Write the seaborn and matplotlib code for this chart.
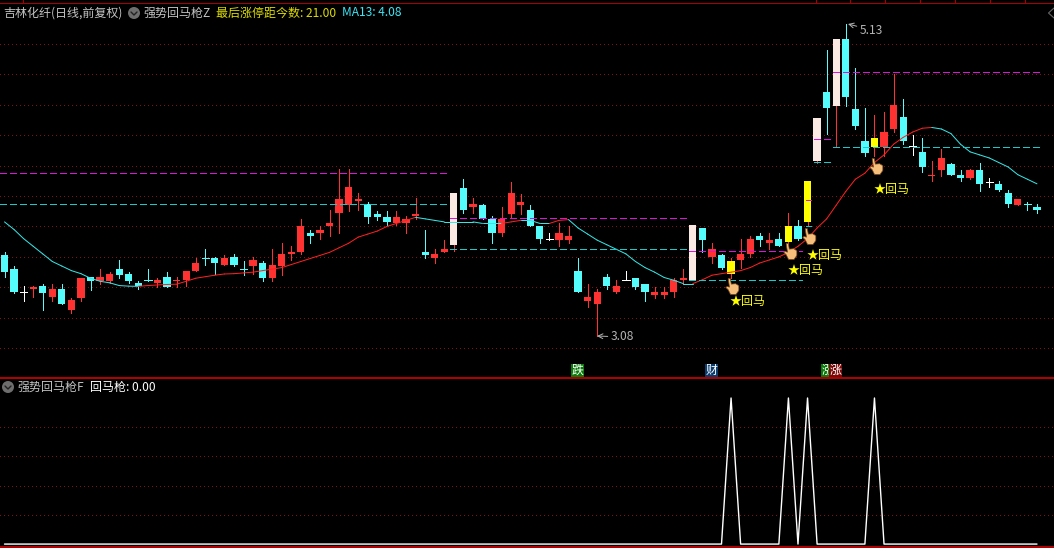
import seaborn as sns
import matplotlib.pyplot as plt
import numpy as np
from matplotlib.patches import Rectangle, Circle
from matplotlib.path import Path

# candles (yuan)
open_ = [3.61,3.52,3.37,3.39,3.41,3.34,3.39,3.25,3.33,3.47,3.44,3.44,3.52,3.49,3.43,3.45,3.43,3.47,3.44,3.45,
         3.51,3.59,3.59,3.55,3.60,3.52,3.54,3.56,3.46,3.54,3.62,3.63,3.76,3.76,3.80,3.89,3.94,3.97,3.95,3.88,
         3.86,3.82,3.82,3.87,3.63,3.59,3.63,3.68,4.05,3.93,3.94,3.85,3.76,3.88,3.94,3.91,3.80,3.72,3.71,3.71,
         3.51,3.31,3.29,3.47,3.37,3.45,3.46,3.42,3.35,3.35,3.37,3.45,3.45,3.79,3.60,3.61,3.49,3.58,3.62,3.74,
         3.69,3.72,3.70,3.80,3.83,4.23,4.68,4.59,5.03,4.57,4.36,4.32,4.32,4.44,4.52,4.33,4.29,4.13,4.17,4.21,
         4.14,4.12,4.17,4.09,4.08,4.02,3.94,3.95,3.93]
high = [3.63,3.54,3.41,3.41,3.42,3.42,3.42,3.33,3.46,3.47,3.52,3.50,3.58,3.50,3.44,3.52,3.46,3.50,3.47,3.51,
        3.59,3.65,3.60,3.61,3.62,3.57,3.60,3.57,3.65,3.69,3.67,3.85,3.78,3.80,3.91,4.18,4.18,4.02,3.96,3.90,
        3.90,3.90,3.87,3.99,3.78,3.65,3.71,4.02,4.11,3.99,3.95,3.87,3.93,4.09,4.01,3.94,3.80,3.76,3.82,3.80,
        3.59,3.42,3.39,3.49,3.45,3.51,3.46,3.42,3.40,3.40,3.46,3.52,3.81,3.79,3.69,3.62,3.59,3.72,3.74,3.76,
        3.76,3.76,3.89,3.84,4.10,4.51,4.96,5.03,5.13,4.84,4.58,4.53,4.55,4.80,4.64,4.40,4.38,4.23,4.31,4.22,
        4.17,4.18,4.22,4.12,4.10,4.04,3.98,3.96,3.95]
low = [3.47,3.36,3.31,3.34,3.25,3.31,3.29,3.23,3.31,3.38,3.42,3.43,3.46,3.43,3.39,3.44,3.40,3.40,3.40,3.41,
       3.51,3.55,3.49,3.55,3.54,3.48,3.49,3.44,3.44,3.48,3.58,3.62,3.69,3.72,3.74,3.76,3.90,3.91,3.82,3.84,
       3.81,3.81,3.76,3.85,3.59,3.56,3.63,3.64,3.89,3.89,3.85,3.69,3.74,3.86,3.88,3.80,3.69,3.71,3.67,3.69,
       3.37,3.27,3.08,3.39,3.36,3.45,3.39,3.31,3.33,3.33,3.34,3.42,3.45,3.63,3.56,3.52,3.46,3.53,3.60,3.67,
       3.65,3.67,3.65,3.71,3.80,4.22,4.41,4.32,4.59,4.44,4.26,4.26,4.26,4.42,4.34,4.27,4.16,4.10,4.13,4.14,
       4.10,4.11,4.03,4.06,4.03,3.93,3.94,3.91,3.89]
close = [3.50,3.37,3.37,3.40,3.36,3.39,3.29,3.32,3.46,3.44,3.47,3.49,3.48,3.44,3.41,3.45,3.45,3.40,3.45,3.51,
         3.56,3.59,3.56,3.59,3.55,3.52,3.58,3.46,3.55,3.62,3.63,3.80,3.74,3.78,3.82,3.98,4.06,3.98,3.86,3.86,
         3.83,3.86,3.85,3.88,3.61,3.62,3.65,4.02,3.91,3.95,3.85,3.76,3.85,4.02,3.96,3.80,3.72,3.72,3.76,3.74,
         3.37,3.34,3.37,3.41,3.41,3.45,3.40,3.37,3.37,3.37,3.45,3.46,3.81,3.71,3.65,3.53,3.57,3.62,3.72,3.71,
         3.71,3.67,3.80,3.72,4.10,4.51,4.58,5.03,4.65,4.46,4.28,4.38,4.42,4.60,4.36,4.33,4.19,4.14,4.25,4.14,
         4.12,4.17,4.08,4.09,4.04,3.95,3.98,3.95,3.91]
ma13 = [3.83,3.78,3.72,3.67,3.62,3.57,3.54,3.51,3.49,3.46,3.44,3.43,3.412,3.408,3.407,3.412,3.416,3.419,3.421,3.44,
        3.46,3.47,3.48,3.488,3.49,3.495,3.50,3.51,3.52,3.53,3.55,3.57,3.59,3.61,3.63,3.66,3.69,3.73,3.75,3.77,
        3.80,3.82,3.84,3.86,3.85,3.84,3.83,3.83,3.83,3.83,3.82,3.82,3.82,3.83,3.84,3.84,3.82,3.82,3.84,3.845,
        3.79,3.75,3.71,3.68,3.65,3.62,3.57,3.53,3.50,3.465,3.447,3.425,3.425,3.45,3.48,3.49,3.50,3.51,3.53,3.56,
        3.58,3.60,3.63,3.67,3.72,3.79,3.85,3.94,4.03,4.11,4.15,4.22,4.27,4.34,4.385,4.42,4.445,4.45,4.44,4.41,
        4.34,4.29,4.27,4.25,4.22,4.19,4.14,4.11,4.08]

limit_up_days = [47, 72, 85, 87]
signal_days = [76, 82, 84, 91]
flat_days = [2, 57, 65, 95, 103]

# pressure / support levels of each limit-up run
level_start = [-0.5, 46.6, 71.6, 83.8, 84.7, 86.7]
level_end = [46.4, 71.5, 83.4, 84.4, 86.5, 108.5]
level_high = [4.148, 3.853, 3.636, 3.971, 4.374, 4.814]
level_low = [3.945, 3.649, 3.446, 3.80, 4.223, 4.322]

hand_prices = [3.41, 3.64, 3.74, 4.20]
signal = [1 if i in signal_days else 0 for i in range(len(close))]
grid_prices = [3.0, 3.2, 3.4, 3.6, 3.8, 4.0, 4.2, 4.4, 4.6, 4.8, 5.0]
grid_signal = [0.2, 0.4, 0.6, 0.8]

W, H = 1054, 548
RED, CYAN = "#FF3232", "#54FCFC"
DOT = (0, (1, 3))
LW = 0.72  # one pixel

sns.set_theme(style="dark", rc={"figure.facecolor": "black", "axes.facecolor": "black", "axes.grid": False})
plt.rcParams['font.family'] = ['Noto Sans CJK SC', 'DejaVu Sans']

fig = plt.figure(figsize=(W / 100, H / 100), dpi=100)
ax = fig.add_axes([0, 1 - 378 / H, 1, 378 / H])
ax2 = fig.add_axes([0, 1 - 547 / H, 1, 168 / H])
over = fig.add_axes([0, 0, 1, 1])

x_lim = (-4.5 / 9.56, (W - 4.5) / 9.56)
ax.set_xlim(x_lim)
ax.set_ylim(2.805, 5.287)
ax2.set_xlim(x_lim)
ax2.set_ylim(-0.02, 1.13)
for a in (ax, ax2):
    a.set_axis_off()
    a.patch.set_visible(False)

over.set_xlim(0, W)
over.set_ylim(H, 0)
over.set_axis_off()
over.patch.set_visible(False)
fig.patch.set_facecolor("black")

# grid
ax.hlines(grid_prices, *x_lim, color="#8A1010", lw=LW, linestyles=[DOT], antialiased=False, zorder=1)
ax2.hlines(grid_signal, *x_lim, color="#8A1010", lw=LW, linestyles=[DOT], antialiased=False, zorder=1)

# candles
days = np.arange(len(close))
for i in days:
    o, h, l, c = open_[i], high[i], low[i], close[i]
    if i in flat_days:
        wick = body = "white"
    elif c > o:
        wick = body = RED
    else:
        wick = body = CYAN
    if i in limit_up_days:
        body = "#FBE9E4"
    if i in signal_days:
        body = "#FFFF00"
    ax.vlines(i, l, h, color=wick, lw=LW, antialiased=False, zorder=2)
    ax.bar(i, abs(c - o), bottom=min(o, c), width=0.76, color=body, lw=0, antialiased=False, zorder=3)
    if o == c:
        ax.hlines(c, i - 0.38, i + 0.38, color=body, lw=LW, antialiased=False, zorder=3)

# MA13, red while rising and cyan while falling
for i in days[1:]:
    col = "#FF2020" if ma13[i] > ma13[i - 1] else "#35E6E6"
    sns.lineplot(x=[i - 1, i], y=[ma13[i - 1], ma13[i]], color=col, lw=LW, ax=ax, estimator=None, zorder=5)

# levels
dash = (0, (6, 3.6))
ax.hlines(level_high, level_start, level_end, color="#E010E0", lw=LW, linestyles=[dash], antialiased=False, zorder=6)
ax.hlines(level_low, level_start, level_end, color="#14CCCC", lw=LW, linestyles=[dash], antialiased=False, zorder=6)

# pointing hands on the signal days
hand = Path([(-0.55, 1.0), (-0.28, 1.0), (-0.15, 0.3), (0.4, 0.35), (0.8, 0.1), (0.8, -0.5), (0.45, -1.0),
             (-0.25, -1.0), (-0.55, -0.4), (-0.85, -0.12), (-0.68, 0.0), (-0.38, -0.08), (-0.55, 1.0)])
ax.scatter(np.array(signal_days) + 0.15, hand_prices, marker=hand, s=130, color="#F6C07C", edgecolor="#7A4A18",
           lw=0.5, zorder=8)

# lower pane
sns.lineplot(x=days, y=signal, color="white", lw=1.0, ax=ax2, estimator=None, zorder=3)

# frame lines and top ruler
over.plot([0, W], [3, 3], color="#A80000", lw=LW, antialiased=False)
over.plot([0, W], [378, 378], color="#B00000", lw=1.1, antialiased=False)
over.plot([0, W], [547, 547], color="#B00000", lw=1.1, antialiased=False)
over.vlines([23, 816, 850, 885, 920, 955, 990, 1025], 0, 3, color="#A80000", lw=LW, antialiased=False)


def px_text(x, y, s, color, size=8.64, zorder=20, **kw):
    over.text(x, y, s, color=color, fontsize=size, va="center", ha="left", zorder=zorder, **kw)


def fold_icon(x, y):
    over.add_patch(Circle((x, y), 6, color="#6E6E6E", lw=0, zorder=10))
    over.plot([x - 3, x, x + 3], [y - 1, y + 2, y - 1], color="#222222", lw=1.0, zorder=11)


GRAY = "#C4C4C4"
px_text(3, 13, "吉林化纤(日线,前复权)", GRAY)
fold_icon(134, 13)
px_text(143, 13, "强势回马枪Z", GRAY)
px_text(216, 13, "最后涨停距今数: 21.00", "#DCDC00")
px_text(342, 13, "MA13: 4.08", "#3CE6F5")
over.plot([1054, 1048.5, 1054], [8, 13, 18], color="#666666", lw=0.8)

fold_icon(8, 387)
px_text(17, 387, "强势回马枪F", GRAY)
px_text(90, 387, "回马枪: 0.00", "white")

# high / low tags
over.annotate("5.13", xy=(848, 24), xytext=(860, 30), color="#B4B4B4", fontsize=8.64, va="center",
              arrowprops=dict(arrowstyle="->", color="#B4B4B4", lw=0.7, shrinkA=0, shrinkB=0))
over.annotate("3.08", xy=(597, 336), xytext=(611, 337), color="#B4B4B4", fontsize=8.64, va="center",
              arrowprops=dict(arrowstyle="->", color="#B4B4B4", lw=0.7, shrinkA=0, shrinkB=0))

# signal labels
for x, y in [(730, 301), (788, 270), (807, 255), (874, 189)]:
    px_text(x, y, "★回马", "#FFFF00")

# news badges, later ones cover earlier ones
for n, (x, wid, col, s) in enumerate([(571, 13, "#0A7A0A", "跌"), (705, 13, "#0B3C6E", "财"),
                                      (821, 10, "#0A7A0A", "涨"), (829, 13, "#7A0A0A", "涨")]):
    over.add_patch(Rectangle((x, 364), wid, 13, color=col, lw=0, zorder=12 + 2 * n))
    px_text(x + 0.5, 370, s, "white", zorder=13 + 2 * n)

fig.savefig("out.png", dpi=100, facecolor="black")
